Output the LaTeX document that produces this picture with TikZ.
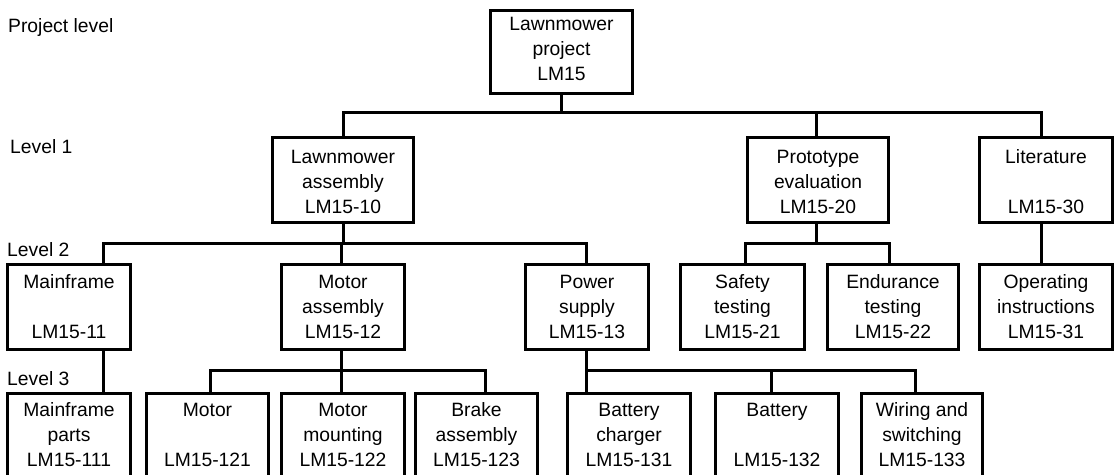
\documentclass[tikz,border=0pt]{standalone}
\usepackage{fontspec}
\setmainfont{Liberation Sans}
\newcommand{\boxtext}[3]{\begin{tabular}[t]{@{}c@{}}#1\\#2\\#3\end{tabular}}
\tikzset{
  wbox/.style={draw, line width=3pt, anchor=north west, inner sep=0pt,
    minimum height=0pt, font=\fontsize{19.3}{25}\selectfont},
  lvA/.style={text height=20pt, text depth=63pt},
  lvB/.style={text height=25.5pt, text depth=59.5pt},
  lvC/.style={text height=23.5pt, text depth=61.5pt},
  lvD/.style={text height=23pt, text depth=61pt},
  lvl/.style={anchor=base west, inner sep=0pt, font=\fontsize{19.3}{25}\selectfont},
  conn/.style={line width=3pt}
}
\begin{document}
\begin{tikzpicture}[x=1pt,y=-1pt]
\useasboundingbox (0,0) rectangle (1114,474);
% level labels
\node[lvl] (l0) at (8,32) {Project level};
\node[lvl] (l1) at (10,153) {Level 1};
\node[lvl] (l2) at (7,256.5) {Level 2};
\node[lvl] (l3) at (7,385) {Level 3};
% bus coordinates
\coordinate (b1) at (0,112.5);
\coordinate (b2) at (0,243);
\coordinate (b3) at (0,370);
% project level
\node[wbox, lvA, minimum width=142pt] (top) at (489,9) {\boxtext{Lawnmower}{project}{LM15}};
% level 1
\node[wbox, lvB, minimum width=141pt] (la) at (271,136) {\boxtext{Lawnmower}{assembly}{LM15-10}};
\node[wbox, lvB, minimum width=141pt] (pe) at (746,136) {\boxtext{Prototype}{evaluation}{LM15-20}};
\node[wbox, lvB, minimum width=133pt] (lit) at (978,136) {\boxtext{Literature}{}{LM15-30}};
% level 2
\node[wbox, lvC, minimum width=123pt] (mf) at (6,263) {\boxtext{Mainframe}{}{LM15-11}};
\node[wbox, lvC, minimum width=123pt] (ma) at (280,263) {\boxtext{Motor}{assembly}{LM15-12}};
\node[wbox, lvC, minimum width=123pt] (ps) at (524,263) {\boxtext{Power}{supply}{LM15-13}};
\node[wbox, lvC, minimum width=124pt] (st) at (679,263) {\boxtext{Safety}{testing}{LM15-21}};
\node[wbox, lvC, minimum width=131pt] (et) at (826,263) {\boxtext{Endurance}{testing}{LM15-22}};
\node[wbox, lvC, minimum width=133pt] (oi) at (978,263) {\boxtext{Operating}{instructions}{LM15-31}};
% level 3
\node[wbox, lvD, minimum width=123pt] (mp) at (6,392) {\boxtext{Mainframe}{parts}{LM15-111}};
\node[wbox, lvD, minimum width=122pt] (mo) at (145,392) {\boxtext{Motor}{}{LM15-121}};
\node[wbox, lvD, minimum width=123pt] (mm) at (280,392) {\boxtext{Motor}{mounting}{LM15-122}};
\node[wbox, lvD, minimum width=122pt] (ba) at (414,392) {\boxtext{Brake}{assembly}{LM15-123}};
\node[wbox, lvD, minimum width=123pt] (bc) at (566,392) {\boxtext{Battery}{charger}{LM15-131}};
\node[wbox, lvD, minimum width=123pt] (bt) at (714,392) {\boxtext{Battery}{}{LM15-132}};
\node[wbox, lvD, minimum width=121pt] (ws) at (860,392) {\boxtext{Wiring and}{switching}{LM15-133}};
% connectors: project -> level 1
\draw[conn] (top.south) -- (top.south |- b1);
\draw[conn] (la.north) |- ([xshift=-4.5pt]lit.north |- b1) -- ([xshift=-4.5pt]lit.north);
\draw[conn] ([xshift=-1.5pt]pe.north) -- ([xshift=-1.5pt]pe.north |- b1);
% level 1 -> level 2
\draw[conn] (la.south) -- (la.south |- b2);
\draw[conn] ([xshift=34.5pt]mf.north) |- ([xshift=-1pt]ps.north |- b2) -- ([xshift=-1pt]ps.north);
\draw[conn] ([xshift=-1.5pt]ma.north) -- ([xshift=-1.5pt]ma.north |- b2);
\draw[conn] ([xshift=-1.5pt]pe.south) -- ([xshift=-1.5pt]pe.south |- b2);
\draw[conn] ([xshift=2.5pt]st.north) |- ([xshift=-3.5pt]et.north |- b2) -- ([xshift=-3.5pt]et.north);
\draw[conn] ([xshift=-4.5pt]lit.south) -- ([xshift=-4.5pt]oi.north);
% level 2 -> level 3
\draw[conn] ([xshift=34.5pt]mf.south) -- ([xshift=34.5pt]mp.north);
\draw[conn] ([xshift=-1.5pt]ma.south) -- ([xshift=-1.5pt]ma.south |- b3);
\draw[conn] ([xshift=3pt]mo.north) |- ([xshift=9pt]ba.north |- b3) -- ([xshift=9pt]ba.north);
\draw[conn] ([xshift=-2pt]mm.north) -- ([xshift=-2pt]mm.north |- b3);
\draw[conn] ([xshift=-1pt]ps.south) -- ([xshift=-1pt]ps.south |- bc.north);
\draw[conn] ([xshift=-1pt]ps.south |- b3) -| ([xshift=-7pt]ws.north);
\draw[conn] ([xshift=-5.5pt]bt.north) -- ([xshift=-5.5pt]bt.north |- b3);
\end{tikzpicture}
\end{document}
